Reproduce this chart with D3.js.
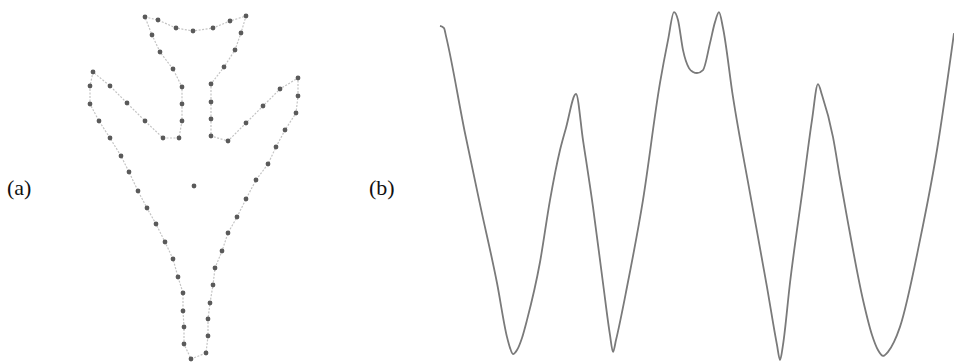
<!DOCTYPE html>
<html>
<head>
<meta charset="utf-8">
<script src="https://cdn.jsdelivr.net/npm/d3@7"></script>
<style>
  html, body { margin: 0; padding: 0; background: #fff; }
  svg { display: block; }
</style>
</head>
<body>
<svg id="chart" width="954" height="364"></svg>
<script>
// Panel (a): boundary sample points of the shape, relative to its centroid (y up)
const boundaryX = [-49, -36, -18, -1, 19, 36, 52,
  47, 41, 30, 17, 17, 17, 17,
  34, 52, 69, 86, 104, 104, 102, 91, 82, 74, 62,
  52, 43, 34, 28, 21, 19, 16, 14, 14, 12,
  -3,
  -10, -10, -11, -11, -16, -21, -29, -38, -47, -56, -65, -73, -84, -95, -104, -104, -101,
  -84, -67, -49, -31, -15,
  -12, -12, -12, -21, -34, -42];
const boundaryY = [169, 166, 158, 155, 158, 165, 170,
  153, 136, 119, 102, 84, 67, 50,
  45, 63, 80, 97, 108, 90, 73, 56, 39, 22, 6,
  -13, -31, -47, -65, -82, -99, -117, -133, -150, -167,
  -173,
  -158, -141, -125, -107, -91, -73, -56, -38, -22, -5, 14, 30, 48, 65, 82, 100, 114,
  100, 83, 65, 48, 48,
  65, 82, 99, 117, 134, 151];
const centroid = [0, 0];

// Panel (b): centroid distance along the boundary (position in % of perimeter, distance)
const sigPos = [0, 0.78, 1.17, 4.86, 7.9, 11.09, 13.04, 13.62, 14.2, 14.98, 15.95, 16.93,
  19.46, 21.4, 23.35, 24.51, 26.46, 27.82, 29.77, 31.71, 33.07, 33.66, 34.24, 36.38,
  39.49, 42.8, 44.36, 45.53, 46.3, 47.28, 48.44, 49.22, 50.0, 51.17, 52.53, 53.5,
  54.28, 55.06, 57.0, 60.31, 63.62, 65.56, 66.15, 66.73, 68.09, 70.62, 72.37, 73.54,
  74.32, 76.46, 77.82, 79.18, 82.3, 84.05, 85.21, 86.19, 87.16, 88.33, 89.49, 93.39,
  96.69, 100];
const sigDist = [174.1, 173.3, 170.3, 134.3, 106.8, 78.6, 58.5, 54.5, 52.2, 53.7, 58.2, 64.9,
  86.4, 109.4, 128.0, 136.2, 148.8, 131.7, 106.8, 78.6, 59.3, 53.0, 57.4, 77.1,
  109.4, 152.9, 168.8, 179.2, 176.3, 165.1, 158.4, 157.0, 156.6, 157.7, 167.7, 175.5,
  179.2, 173.3, 147.7, 112.0, 77.1, 55.6, 50.0, 55.6, 78.6, 114.3, 139.1, 152.5,
  148.4, 132.8, 117.6, 103.1, 72.3, 59.3, 53.7, 51.5, 53.0, 56.7, 62.3, 94.6,
  128.0, 171.4];

const labels = ["(a)", "(b)"];

const svg = d3.select("#chart");

// ---- panel (a) ----
const ax = d3.scaleLinear().domain([-110, 110]).range([84, 304]);
const ay = d3.scaleLinear().domain([-175, 175]).range([361, 11]);

const pts = boundaryX.map((x, i) => [x, boundaryY[i]]);

svg.append("path")
  .datum(pts)
  .attr("fill", "none")
  .attr("stroke", "#c4c4c4")
  .attr("stroke-width", 1.2)
  .attr("stroke-dasharray", "2,1.5")
  .attr("d", d3.line().x(d => ax(d[0])).y(d => ay(d[1])).curve(d3.curveLinearClosed));

svg.append("g").selectAll("circle")
  .data(pts.concat([centroid]))
  .join("circle")
  .attr("cx", d => ax(d[0]))
  .attr("cy", d => ay(d[1]))
  .attr("r", 2.4)
  .attr("fill", "#5a5a5a");

// ---- panel (b) ----
const bx = d3.scaleLinear().domain([0, 100]).range([440, 954]);
const by = d3.scaleLinear().domain([50, 180]).range([360, 10]);

const sig = sigPos.map((p, i) => [p, sigDist[i]]);

svg.append("path")
  .datum(sig)
  .attr("fill", "none")
  .attr("stroke", "#7a7a7a")
  .attr("stroke-width", 1.8)
  .attr("stroke-linejoin", "round")
  .attr("d", d3.line().x(d => bx(d[0])).y(d => by(d[1])).curve(d3.curveMonotoneX));

// ---- panel labels ----
svg.selectAll("text.lab")
  .data(labels)
  .join("text")
  .attr("class", "lab")
  .attr("x", (d, i) => i === 0 ? 7 : 369)
  .attr("y", 195)
  .attr("font-family", "'Liberation Serif', 'DejaVu Serif', serif")
  .attr("font-size", 22)
  .attr("fill", "#111")
  .text(d => d);
</script>
</body>
</html>
